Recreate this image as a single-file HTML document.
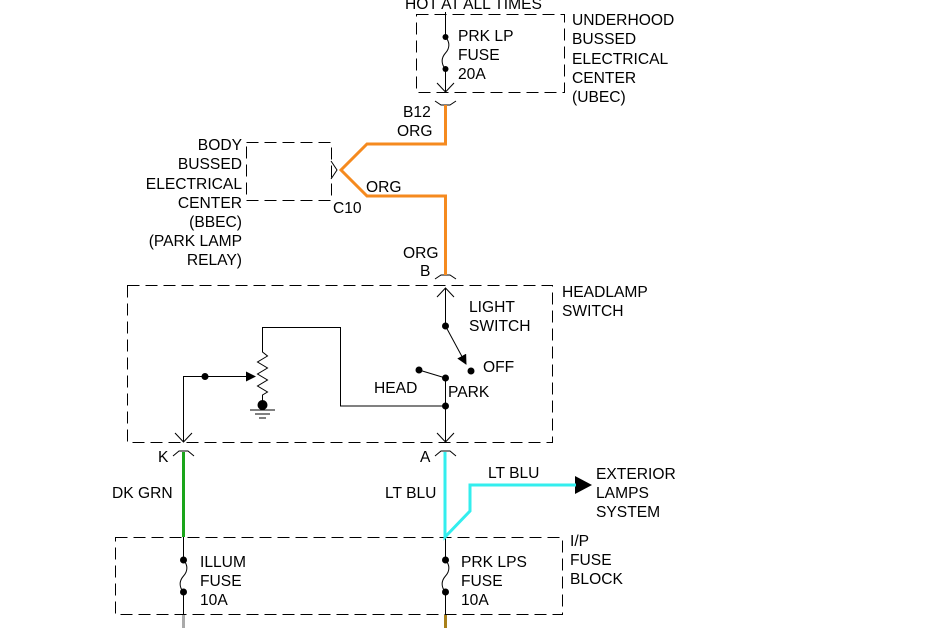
<!DOCTYPE html>
<html><head><style>
html,body{margin:0;padding:0;background:#fff;}
svg text{font-family:"Liberation Sans",sans-serif;font-size:15.6px;fill:#000;}
</style></head><body>
<svg width="936" height="628" viewBox="0 0 936 628" xmlns="http://www.w3.org/2000/svg">
<defs><marker id="ah" markerWidth="12" markerHeight="12" refX="9" refY="5" orient="auto" markerUnits="userSpaceOnUse"><path d="M0,0 L10,5 L0,10 Z" fill="#000"/></marker></defs>
<g fill="none" stroke="#000" stroke-width="1" stroke-dasharray="12,6">
<rect x="416.5" y="14.5" width="148" height="78"/>
<rect x="246.5" y="142.5" width="85" height="58"/>
<rect x="127.5" y="285.5" width="425" height="157"/>
<rect x="115.5" y="537.5" width="447" height="77"/>
</g>
<g fill="none" stroke="#000" stroke-width="1">
<path d="M445.5,12 V37 M445.5,69 V92"/>
<path d="M445.5,37 C450,42 450,48 445.5,53 C441,58 441,64 445.5,69"/>
<path d="M437,83 L445.5,92 L454,83"/>
<path d="M435,101 L441,105 H450 L456,101"/>
<path d="M331,161 L337,170 L331,179"/>
<path d="M435,279 L441,275 H450 L456,279"/>
<path d="M437,297 L445.5,288 L454,297"/>
<path d="M445.5,288 V326"/>
<path d="M445.5,326 L466,364" marker-end="url(#ah)"/>
<path d="M419,370 L445.5,378 V442"/>
<path d="M445.5,406 H340.5 V327.5 H262.5 V352 l5,4 -10,6 10,6 -10,6 10,6 -10,6 10,6 -5,3 V404"/>
<path d="M250,410 H275 M255,414 H270 M259,418 H266"/>
<path d="M183.5,442 V376.5 H255" marker-end="url(#ah)"/>
<path d="M175,433 L183.5,442 L192,433 M437,433 L445.5,442 L454,433"/>
<path d="M173,456 L179,451 H188 L194,456 M435,456 L441,451 H450 L456,456"/>
<path d="M183.5,537 V560 M183.5,592 V614 M445.5,537 V560 M445.5,592 V614"/>
<path d="M183.5,560 C188,565 188,571 183.5,576 C179,581 179,587 183.5,592"/>
<path d="M445.5,560 C450,565 450,571 445.5,576 C441,581 441,587 445.5,592"/>
</g>
<g fill="#000">
<circle cx="445.5" cy="37" r="3"/><circle cx="445.5" cy="69" r="3"/>
<circle cx="445.5" cy="326" r="3.5"/><circle cx="471" cy="371" r="3.5"/>
<circle cx="419" cy="370" r="3.5"/><circle cx="445.5" cy="378" r="3.5"/>
<circle cx="445.5" cy="406" r="3.5"/><circle cx="205" cy="376.5" r="3.5"/>
<circle cx="262.5" cy="405" r="5"/>
<circle cx="183.5" cy="560" r="3.5"/><circle cx="183.5" cy="592" r="3.5"/>
<circle cx="445.5" cy="560" r="3.5"/><circle cx="445.5" cy="592" r="3.5"/>
<path d="M575,476 L592,485 L575,494 Z"/>
</g>
<path d="M445.5,105 V144 H367 L341,170 L367,196 H445.5 V275" fill="none" stroke="#f58a1f" stroke-width="3"/>
<path d="M183.5,452 V537" stroke="#1aa51a" stroke-width="3"/>
<path d="M445,452 V537 L470,511 V485 H576" fill="none" stroke="#33eeee" stroke-width="3"/>
<path d="M183.5,615 V628" stroke="#aaa" stroke-width="3"/>
<path d="M445.5,615 V628" stroke="#a8801a" stroke-width="3"/>
<text x="405" y="9">HOT AT ALL TIMES</text>
<text x="458" y="41">PRK LP</text><text x="458" y="60">FUSE</text><text x="458" y="79">20A</text>
<text x="572" y="25">UNDERHOOD</text><text x="572" y="44">BUSSED</text><text x="572" y="64">ELECTRICAL</text><text x="572" y="83">CENTER</text><text x="572" y="102">(UBEC)</text>
<text x="403" y="117">B12</text><text x="397" y="136">ORG</text>
<text x="366" y="192">ORG</text><text x="333" y="213">C10</text>
<g text-anchor="end"><text x="242" y="150">BODY</text><text x="242" y="169">BUSSED</text><text x="242" y="189">ELECTRICAL</text><text x="242" y="208">CENTER</text><text x="242" y="227">(BBEC)</text><text x="242" y="246">(PARK LAMP</text><text x="242" y="265">RELAY)</text></g>
<text x="403" y="258">ORG</text><text x="420" y="276">B</text>
<text x="562" y="297">HEADLAMP</text><text x="562" y="316">SWITCH</text>
<text x="469" y="312">LIGHT</text><text x="469" y="331">SWITCH</text>
<text x="483" y="372">OFF</text><text x="374" y="393">HEAD</text><text x="448" y="397">PARK</text>
<text x="158" y="462">K</text><text x="420" y="462">A</text>
<text x="112" y="498">DK GRN</text><text x="385" y="498">LT BLU</text><text x="488" y="478">LT BLU</text>
<text x="596" y="479">EXTERIOR</text><text x="596" y="498">LAMPS</text><text x="596" y="517">SYSTEM</text>
<text x="570" y="546">I/P</text><text x="570" y="565">FUSE</text><text x="570" y="584">BLOCK</text>
<text x="200" y="567">ILLUM</text><text x="200" y="586">FUSE</text><text x="200" y="605">10A</text>
<text x="461" y="567">PRK LPS</text><text x="461" y="586">FUSE</text><text x="461" y="605">10A</text>
</svg>
</body></html>
